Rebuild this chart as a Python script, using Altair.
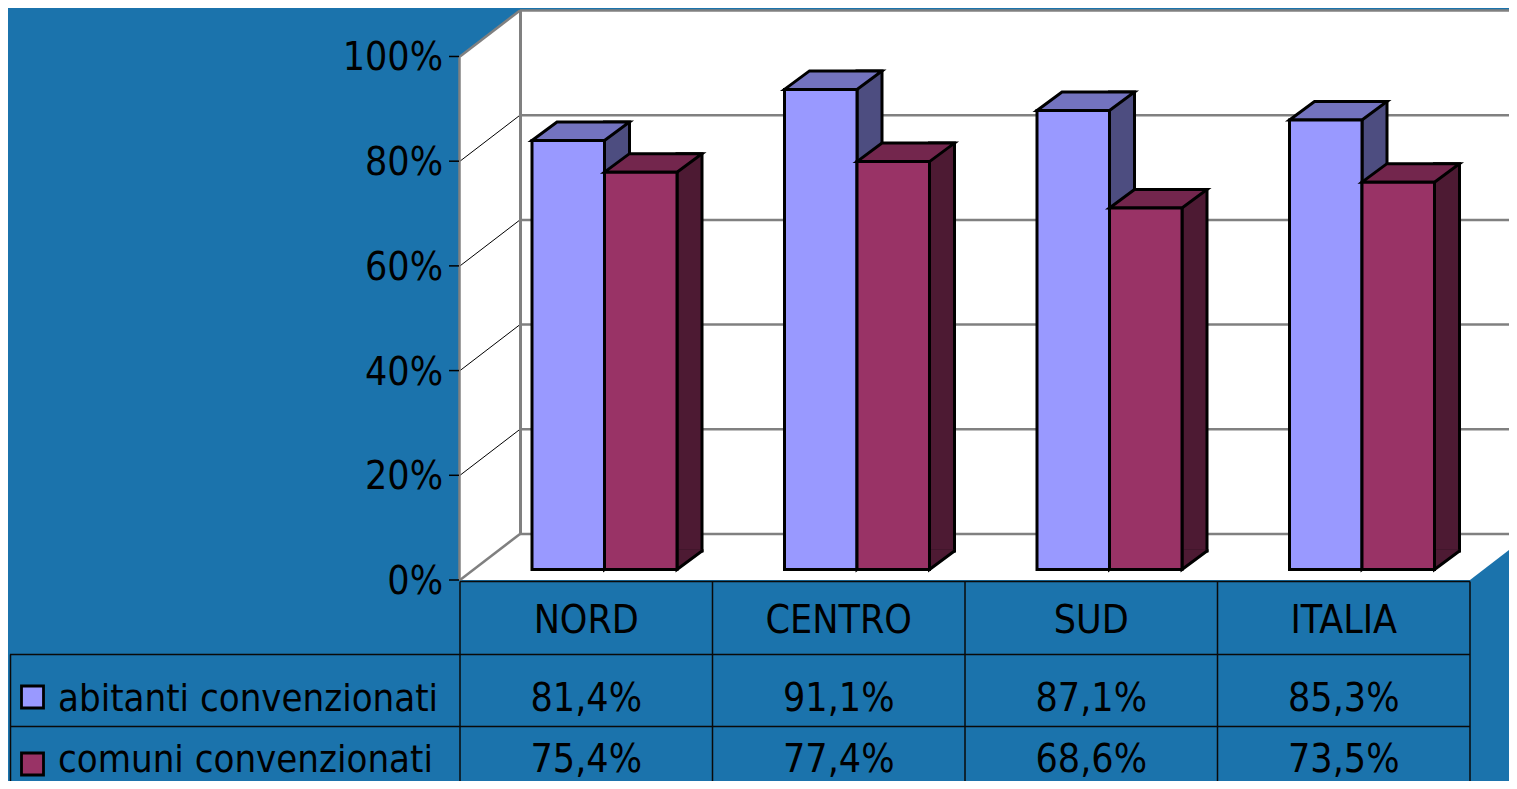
import altair as alt
import pandas as pd

# ---------------- data ----------------
categories = ["NORD", "CENTRO", "SUD", "ITALIA"]
series = ["abitanti convenzionati", "comuni convenzionati"]
abitanti = [81.4, 91.1, 87.1, 85.3]
comuni = [75.4, 77.4, 68.6, 73.5]
ticks = [0, 20, 40, 60, 80, 100]
tick_labels = ["0%", "20%", "40%", "60%", "80%", "100%"]

# ---------------- style ----------------
front_colors = ["#9999ff", "#993366"]
top_colors = ["#7373bf", "#73264d"]
side_colors = ["#4d4d80", "#4d1a33"]
BG = "#1b73ac"
GRAY = "#808080"
LINE = "#0a0a0a"
FONT = "DejaVu Sans Condensed, DejaVu Sans"
FS = 38
W, H = 1501, 773

BW, DX, DY, SW = 72.5, 25, 18.5, 3
bar_xoff = [-18, 54.5]
side_xoff = [o + BW / 2 + DX / 2 for o in bar_xoff]


def fmt(v):
    return f"{v:.1f}".replace(".", ",") + "%"


rows = []
for s, vals in zip(series, [abitanti, comuni]):
    for c, v in zip(categories, vals):
        rows.append({"series": s, "cat": c, "value": v, "label": fmt(v)})
df = pd.DataFrame(rows)
tick_df = pd.DataFrame({"t": ticks, "tl": tick_labels})
cat_df = pd.DataFrame({"cat": categories})
ser_df = pd.DataFrame({"series": series})
one = pd.DataFrame({"a": [0]})

# ---------------- scales ----------------
x_scale = alt.Scale(domain=categories, range=[452, 1462], paddingInner=0, paddingOuter=0)
wall_y = alt.Scale(domain=[-38.395, 109.26], zero=False, nice=False)
bar_y = alt.Scale(domain=[-40.133, 106.546], zero=False, nice=False)
color_scale = alt.Scale(domain=series, range=front_colors)
row_y = alt.Scale(domain=series, range=[689, 756], padding=0)
row_base = alt.Scale(domain=series, range=[703, 764], padding=0)

layers = []

# ---------------- walls ----------------
layers.append(
    alt.Chart(one).mark_rect(fill="white", yOffset=-46, y2Offset=-46).encode(
        x=alt.value(512), x2=alt.value(W + 40),
        y=alt.YDatum(100, scale=wall_y, axis=None), y2=alt.datum(0))
)
left_wall = "M 0 0 L 60 -46 L 60 -569.5 L 0 -523.5 Z"
floor = "M 0 0 L 1010 0 L 1070 -46 L 60 -46 Z"
for p in [left_wall, floor]:
    layers.append(
        alt.Chart(one).mark_point(shape=p, size=4, filled=True, fill="white",
                                  strokeOpacity=0, opacity=1).encode(
            x=alt.value(452), y=alt.YDatum(0, scale=wall_y, axis=None))
    )
# back wall gridlines (and top edge)
layers.append(
    alt.Chart(tick_df).mark_rule(color=GRAY, strokeWidth=2.5, yOffset=-46).encode(
        x=alt.value(512), x2=alt.value(W + 40),
        y=alt.Y("t:Q", scale=wall_y, axis=None))
)
# side wall diagonal gridlines
layers.append(
    alt.Chart(tick_df).transform_filter("datum.t > 0 && datum.t < 100")
    .mark_rule(color="black", strokeWidth=1, y2Offset=-46).encode(
        x=alt.value(452), x2=alt.value(512),
        y=alt.Y("t:Q", scale=wall_y, axis=None), y2="t:Q")
)
layers.append(
    alt.Chart(tick_df).transform_filter("datum.t == 0 || datum.t == 100")
    .mark_rule(color=GRAY, strokeWidth=2.5, y2Offset=-46).encode(
        x=alt.value(452), x2=alt.value(512),
        y=alt.Y("t:Q", scale=wall_y, axis=None), y2="t:Q")
)
# side wall vertical edges
layers.append(
    alt.Chart(one).mark_rule(color=GRAY, strokeWidth=2.5).encode(
        x=alt.value(451.5), y=alt.YDatum(0, scale=wall_y, axis=None), y2=alt.datum(100))
)
layers.append(
    alt.Chart(one).mark_rule(color=GRAY, strokeWidth=3, yOffset=-46, y2Offset=-46).encode(
        x=alt.value(512.5), y=alt.YDatum(0, scale=wall_y, axis=None), y2=alt.datum(100))
)
# axis ticks and labels
layers.append(
    alt.Chart(tick_df).mark_rule(color="black", strokeWidth=1.5).encode(
        x=alt.value(441), x2=alt.value(451),
        y=alt.Y("t:Q", scale=wall_y, axis=None))
)
layers.append(
    alt.Chart(tick_df).mark_text(align="right", baseline="middle", dy=2, font=FONT,
                                 fontSize=FS + 1, color="black").encode(
        x=alt.value(435), y=alt.Y("t:Q", scale=wall_y, axis=None), text="tl:N")
)

# ---------------- 3D bars ----------------
xenc = alt.X("cat:N", scale=x_scale, axis=None)
yenc = alt.Y("value:Q", scale=bar_y, axis=None)
top_path = f"M {-BW/2} 0 L {-BW/2 + DX} {-DY} L {BW/2 + DX} {-DY} L {BW/2} 0 Z"
bot_path = f"M {BW/2} {-DY - 1.8} L {BW/2} 0 L {BW/2 + DX} {-DY} L {BW/2 + DX} {-DY - 1.8}"

for i, s in enumerate(series):
    d = alt.Chart(df).transform_filter(alt.datum.series == s)
    layers.append(
        d.mark_bar(width=DX, xOffset=side_xoff[i], yOffset=-DY, y2Offset=-DY,
                   fill=side_colors[i], stroke="black", strokeWidth=SW).encode(
            x=xenc, y=yenc, y2=alt.datum(0))
    )
    layers.append(
        d.mark_point(shape=bot_path, size=4, filled=True, fill=side_colors[i],
                     stroke="black", strokeWidth=SW, opacity=1, xOffset=bar_xoff[i]).encode(
            x=xenc, y=alt.YDatum(0, scale=bar_y, axis=None))
    )
    layers.append(
        d.mark_point(shape=top_path, size=4, filled=True, fill=top_colors[i],
                     stroke="black", strokeWidth=SW, opacity=1, xOffset=bar_xoff[i]).encode(
            x=xenc, y=yenc)
    )
    layers.append(
        d.mark_bar(width=BW, xOffset=bar_xoff[i], stroke="black", strokeWidth=SW,
                   opacity=1).encode(
            x=xenc, y=yenc, y2=alt.datum(0),
            color=alt.Color("series:N", scale=color_scale, legend=None))
    )

# ---------------- data table ----------------
layers.append(
    alt.Chart(cat_df).mark_rule(color=LINE, strokeWidth=1.5).encode(
        x=alt.X("cat:N", scale=x_scale, axis=None, bandPosition=0),
        y=alt.value(573.5), y2=alt.value(H))
)
layers.append(
    alt.Chart(one).mark_rule(color=LINE, strokeWidth=1.5).encode(
        x=alt.value(1462), y=alt.value(573.5), y2=alt.value(H))
)
layers.append(
    alt.Chart(one).mark_rule(color=LINE, strokeWidth=1.5).encode(
        x=alt.value(452), x2=alt.value(1462), y=alt.value(573.5))
)
for yy in [646.5, 718.5]:
    layers.append(
        alt.Chart(one).mark_rule(color=LINE, strokeWidth=1.5).encode(
            x=alt.value(2), x2=alt.value(1462), y=alt.value(yy))
    )
layers.append(
    alt.Chart(one).mark_rule(color=LINE, strokeWidth=1.5).encode(
        x=alt.value(2.5), y=alt.value(646.5), y2=alt.value(H))
)
layers.append(
    alt.Chart(cat_df).mark_text(baseline="alphabetic", font=FONT, fontSize=FS + 1,
                                color="black").encode(
        x=alt.X("cat:N", scale=x_scale, axis=None), y=alt.value(625), text="cat:N")
)
layers.append(
    alt.Chart(ser_df).mark_point(shape="square", size=484, filled=True, stroke="black",
                                 strokeWidth=2.8, opacity=1).encode(
        x=alt.value(24.5), y=alt.Y("series:N", scale=row_y, axis=None),
        color=alt.Color("series:N", scale=color_scale, legend=None))
)
layers.append(
    alt.Chart(ser_df).mark_text(align="left", baseline="alphabetic", font=FONT,
                                fontSize=FS, color="black").encode(
        x=alt.value(50), y=alt.Y("series:N", scale=row_base, axis=None), text="series:N")
)
layers.append(
    alt.Chart(df).mark_text(baseline="alphabetic", font=FONT, fontSize=FS + 1,
                            color="black").encode(
        x=alt.X("cat:N", scale=x_scale, axis=None),
        y=alt.Y("series:N", scale=row_base, axis=None), text="label:N")
)

chart = alt.layer(*layers).resolve_scale(y="independent").properties(
    width=W, height=H, autosize=alt.AutoSizeParams(type="none"), padding=0,
    background=BG,
).configure_view(stroke=None)

chart.save("out.html", embed_options={"renderer": "svg", "actions": False})
